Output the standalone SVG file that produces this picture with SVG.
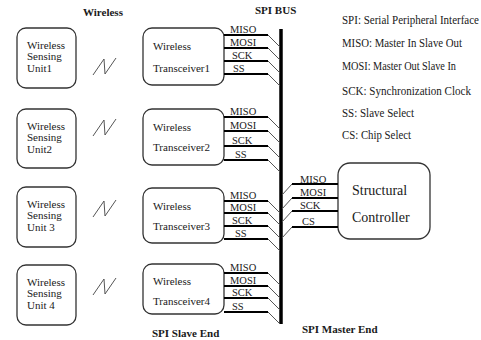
<svg xmlns="http://www.w3.org/2000/svg" width="481" height="340" viewBox="0 0 481 340" font-family="'Liberation Serif', 'Times New Roman', serif">
  <style>
    text { font-family: "Liberation Serif", "Times New Roman", serif; fill: #1a1a1a; }
    .box { fill: #fff; stroke: #333; stroke-width: 1.3; }
    .t { font-size: 11px; }
    .sig { font-size: 10.5px; }
    .title { font-size: 11px; font-weight: bold; }
    .leg { font-size: 11px; }
    .big { font-size: 14px; }
    .wire { stroke: #000; stroke-width: 2; fill: none; }
    .tap { stroke: #555; stroke-width: 1; fill: none; }
    .link { stroke: #555; stroke-width: 1; fill: none; }
  </style>

  <!-- section titles -->
  <text class="title" x="83" y="16">Wireless</text>
  <text class="title" x="255" y="14">SPI BUS</text>
  <text class="title" x="152" y="337">SPI Slave End</text>
  <text class="title" x="302" y="333">SPI Master End</text>

  <!-- abbreviations (tall, narrow lettering) -->
  <g id="legend">
    <text class="leg" transform="matrix(1,0,0,1.2,342,24)" textLength="137" lengthAdjust="spacingAndGlyphs">SPI: Serial Peripheral Interface</text>
    <text class="leg" transform="matrix(1,0,0,1.2,342,47)" textLength="120" lengthAdjust="spacingAndGlyphs">MISO: Master In Slave Out</text>
    <text class="leg" transform="matrix(1,0,0,1.2,342,70)" textLength="114" lengthAdjust="spacingAndGlyphs">MOSI: Master Out Slave In</text>
    <text class="leg" transform="matrix(1,0,0,1.2,342,95)" textLength="129" lengthAdjust="spacingAndGlyphs">SCK: Synchronization Clock</text>
    <text class="leg" transform="matrix(1,0,0,1.2,342,117)" textLength="72" lengthAdjust="spacingAndGlyphs">SS: Slave Select</text>
    <text class="leg" transform="matrix(1,0,0,1.2,342,139)" textLength="69" lengthAdjust="spacingAndGlyphs">CS: Chip Select</text>
  </g>

  <!-- sensing units -->
  <g id="unit1">
    <rect class="box" x="17" y="28" width="59" height="60" rx="9"/>
    <text class="t" x="27" y="49">Wireless</text>
    <text class="t" x="27" y="60">Sensing</text>
    <text class="t" x="27" y="72">Unit1</text>
  </g>
  <g id="unit2">
    <rect class="box" x="17" y="109" width="59" height="59" rx="9"/>
    <text class="t" x="27" y="130">Wireless</text>
    <text class="t" x="27" y="141">Sensing</text>
    <text class="t" x="27" y="153">Unit2</text>
  </g>
  <g id="unit3">
    <rect class="box" x="17" y="187" width="59" height="60" rx="9"/>
    <text class="t" x="27" y="208">Wireless</text>
    <text class="t" x="27" y="219">Sensing</text>
    <text class="t" x="27" y="231">Unit 3</text>
  </g>
  <g id="unit4">
    <rect class="box" x="17" y="265" width="59" height="60" rx="9"/>
    <text class="t" x="27" y="286">Wireless</text>
    <text class="t" x="27" y="297">Sensing</text>
    <text class="t" x="27" y="309">Unit 4</text>
  </g>

  <!-- transceivers -->
  <g id="transceiver1">
    <rect class="box" x="143" y="28" width="81" height="57" rx="9"/>
    <text class="t" x="153" y="50">Wireless</text>
    <text class="t" x="153" y="72">Transceiver1</text>
  </g>
  <g id="transceiver2">
    <rect class="box" x="143" y="109" width="81" height="56" rx="9"/>
    <text class="t" x="153" y="131">Wireless</text>
    <text class="t" x="153" y="151">Transceiver2</text>
  </g>
  <g id="transceiver3">
    <rect class="box" x="143" y="188" width="81" height="55" rx="9"/>
    <text class="t" x="153" y="210">Wireless</text>
    <text class="t" x="153" y="230">Transceiver3</text>
  </g>
  <g id="transceiver4">
    <rect class="box" x="143" y="264" width="81" height="50" rx="9"/>
    <text class="t" x="153" y="285">Wireless</text>
    <text class="t" x="153" y="305">Transceiver4</text>
  </g>

  <!-- master -->
  <g id="controller">
    <rect class="box" x="338" y="163" width="92" height="76" rx="12"/>
    <text class="big" x="352" y="195">Structural</text>
    <text class="big" x="352" y="222">Controller</text>
  </g>

  <g id="connectors">
    <!-- radio links -->
    <path class="link" d="M93 75 L104 59 L105 74 L116 58"/>
    <path class="link" d="M93 136 L104 120 L105 135 L116 119"/>
    <path class="link" d="M93 217 L104 201 L105 216 L116 200"/>
    <path class="link" d="M93 295 L104 279 L105 294 L116 278"/>

    <!-- bus -->
    <line x1="281" y1="29" x2="281" y2="324" stroke="#000" stroke-width="3.5"/>

    <!-- transceiver1 signals -->
    <path class="wire" d="M224 35H268 M224 48H268 M224 61H268 M224 74H268"/>
    <path class="tap" d="M268 35L280 47 M268 48L280 60 M268 61L280 73 M268 74L280 86"/>
    <text class="sig" x="230" y="33">MISO</text>
    <text class="sig" x="230" y="46">MOSI</text>
    <text class="sig" x="232" y="59">SCK</text>
    <text class="sig" x="233" y="72">SS</text>

    <!-- transceiver2 signals -->
    <path class="wire" d="M224 117H268 M224 131H268 M224 146H268 M224 160H268"/>
    <path class="tap" d="M268 117L280 129 M268 131L280 143 M268 146L280 158 M268 160L280 172"/>
    <text class="sig" x="230" y="115">MISO</text>
    <text class="sig" x="230" y="129">MOSI</text>
    <text class="sig" x="232" y="144">SCK</text>
    <text class="sig" x="235" y="158">SS</text>

    <!-- transceiver3 signals -->
    <path class="wire" d="M224 201H268 M224 213H268 M224 226H268 M224 239H268"/>
    <path class="tap" d="M268 201L280 213 M268 213L280 225 M268 226L280 238 M268 239L280 251"/>
    <text class="sig" x="230" y="199">MISO</text>
    <text class="sig" x="230" y="211">MOSI</text>
    <text class="sig" x="232" y="224">SCK</text>
    <text class="sig" x="235" y="237">SS</text>

    <!-- transceiver4 signals -->
    <path class="wire" d="M224 273H268 M224 286H268 M224 298H268 M224 312H268"/>
    <path class="tap" d="M268 273L280 285 M268 286L280 298 M268 298L280 310 M268 312L280 324"/>
    <text class="sig" x="230" y="271">MISO</text>
    <text class="sig" x="230" y="284">MOSI</text>
    <text class="sig" x="232" y="296">SCK</text>
    <text class="sig" x="232" y="310">SS</text>

    <!-- controller signals -->
    <path class="wire" d="M292 184H338 M292 198H338 M292 211H338 M292 227H338"/>
    <path class="tap" d="M292 184L282 195 M292 198L282 209 M292 211L282 222 M292 227L282 238"/>
    <text class="sig" x="300" y="183">MISO</text>
    <text class="sig" x="300" y="196">MOSI</text>
    <text class="sig" x="300" y="209">SCK</text>
    <text class="sig" x="302" y="225">CS</text>
  </g>
</svg>
